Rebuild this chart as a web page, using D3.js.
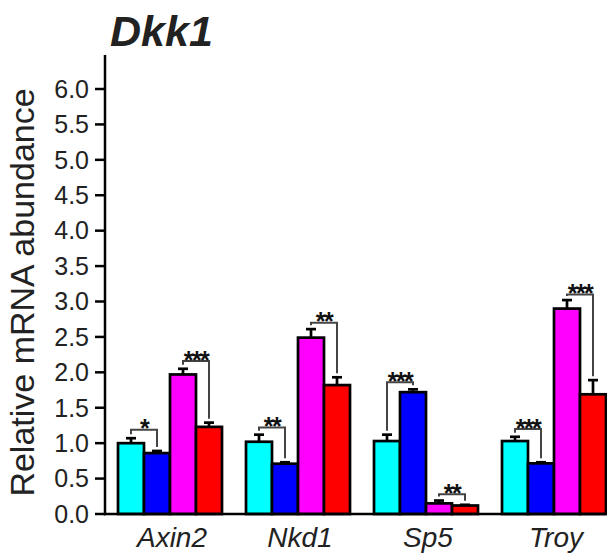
<!DOCTYPE html>
<html>
<head>
<meta charset="utf-8">
<script src="https://cdn.jsdelivr.net/npm/d3@7"></script>
<style>
  html, body { margin: 0; padding: 0; background: #fff; }
  svg { display: block; font-family: "Liberation Sans", Arial, sans-serif; }
</style>
</head>
<body>
<svg id="chart" width="607" height="557"></svg>
<script>
// Genes on the x axis
const genes = ["Axin2", "Nkd1", "Sp5", "Troy"];
// Four conditions per gene, drawn left to right
const conditions = ["c1", "c2", "c3", "c4"];
const conditionColors = ["#00ffff", "#0000ff", "#ff00ff", "#ff0000"];

// Mean relative abundance per condition (one value per gene)
const meanC1 = [1.00, 1.02, 1.03, 1.03];
const meanC2 = [0.86, 0.71, 1.72, 0.715];
const meanC3 = [1.97, 2.49, 0.15, 2.90];
const meanC4 = [1.23, 1.82, 0.12, 1.69];

// Standard error per condition
const semC1 = [0.07, 0.10, 0.09, 0.06];
const semC2 = [0.03, 0.02, 0.04, 0.015];
const semC3 = [0.08, 0.12, 0.04, 0.12];
const semC4 = [0.06, 0.11, 0.01, 0.20];

// Y axis ticks
const yTicks = [0, 0.5, 1, 1.5, 2, 2.5, 3, 3.5, 4, 4.5, 5, 5.5, 6];

// Significance brackets: gene, pair of condition indices, bracket level, label
const sigGene  = ["Axin2", "Axin2", "Nkd1", "Nkd1", "Sp5", "Sp5", "Troy", "Troy"];
const sigFrom  = [0, 2, 0, 2, 0, 2, 0, 2];
const sigTo    = [1, 3, 1, 3, 1, 3, 1, 3];
const sigLevel = [1.19, 2.16, 1.22, 2.70, 1.86, 0.28, 1.20, 3.10];
const sigLabel = ["*", "***", "**", "**", "***", "**", "***", "***"];

const means = [meanC1, meanC2, meanC3, meanC4];
const sems = [semC1, semC2, semC3, semC4];

const rows = [];
genes.forEach((g, gi) => {
  conditions.forEach((c, ci) => {
    rows.push({ gene: g, cond: c, ci, mean: means[ci][gi], sem: sems[ci][gi] });
  });
});

const svg = d3.select("#chart");
const axisX = 105, axisTop = 55, axisBottom = 514, axisRight = 606;

const y = d3.scaleLinear().domain([0, 6]).range([axisBottom, 89]);
const x = d3.scaleBand().domain(genes).range([106, 618])
  .paddingInner(0.1875).paddingOuter(0.09375);
const xs = d3.scaleBand().domain(conditions).range([0, x.bandwidth()]);

const textColor = "#222";

// Bars
svg.append("g").selectAll("rect").data(rows).join("rect")
  .attr("x", d => x(d.gene) + xs(d.cond))
  .attr("y", d => y(d.mean))
  .attr("width", xs.bandwidth())
  .attr("height", d => y(0) - y(d.mean))
  .attr("fill", d => conditionColors[d.ci])
  .attr("stroke", "#000")
  .attr("stroke-width", 2.7);

// Upper error bars
const capW = 10;
const eb = svg.append("g").attr("stroke", "#000").attr("stroke-width", 2.7);
rows.forEach(d => {
  const cx = x(d.gene) + xs(d.cond) + xs.bandwidth() / 2;
  eb.append("line").attr("x1", cx).attr("x2", cx)
    .attr("y1", y(d.mean)).attr("y2", y(d.mean + d.sem));
  eb.append("line").attr("x1", cx - capW / 2).attr("x2", cx + capW / 2)
    .attr("y1", y(d.mean + d.sem)).attr("y2", y(d.mean + d.sem));
});

// Significance brackets
const br = svg.append("g");
sigGene.forEach((g, i) => {
  const gi = genes.indexOf(g);
  const a = sigFrom[i], b = sigTo[i];
  const xa = x(g) + xs(conditions[a]) + xs.bandwidth() / 2;
  const xb = x(g) + xs(conditions[b]) + xs.bandwidth() / 2;
  const yl = y(sigLevel[i]);
  const ya = y(means[a][gi] + sems[a][gi]) - 4;
  const yb = y(means[b][gi] + sems[b][gi]) - 4;
  br.append("path")
    .attr("d", `M${xa},${ya}V${yl}H${xb}V${yb}`)
    .attr("fill", "none")
    .attr("stroke", "#444")
    .attr("stroke-width", 2);
  br.append("text")
    .attr("x", (xa + xb) / 2)
    .attr("y", yl + 7.5)
    .attr("text-anchor", "middle")
    .attr("font-size", 25)
    .attr("font-weight", "bold")
    .attr("letter-spacing", -1.5)
    .attr("fill", "#111")
    .text(sigLabel[i]);
});

// Y axis
const yAxis = svg.append("g").attr("transform", `translate(${axisX},0)`);
yAxis.append("line").attr("x1", 0).attr("x2", 0)
  .attr("y1", axisTop).attr("y2", axisBottom + 1.2)
  .attr("stroke", "#000").attr("stroke-width", 2.5);
yAxis.selectAll("line.tick").data(yTicks).join("line").attr("class", "tick")
  .attr("x1", -10).attr("x2", 0)
  .attr("y1", d => y(d)).attr("y2", d => y(d))
  .attr("stroke", "#000").attr("stroke-width", 2.5);
yAxis.selectAll("text").data(yTicks).join("text")
  .attr("x", -16).attr("y", d => y(d))
  .attr("dy", "0.35em")
  .attr("text-anchor", "end")
  .attr("font-size", 25)
  .attr("fill", textColor)
  .text(d3.format(".1f"));

// X axis
svg.append("line")
  .attr("x1", axisX - 1.2).attr("x2", axisRight)
  .attr("y1", axisBottom).attr("y2", axisBottom)
  .attr("stroke", "#000").attr("stroke-width", 2.5);
svg.append("g").selectAll("text").data(genes).join("text")
  .attr("x", d => x(d) + x.bandwidth() / 2 + 2)
  .attr("y", 547)
  .attr("text-anchor", "middle")
  .attr("font-size", 28)
  .attr("font-style", "italic")
  .attr("fill", textColor)
  .text(d => d);

// Y axis title
svg.append("text")
  .attr("transform", `translate(34,${(80 + 505) / 2}) rotate(-90)`)
  .attr("text-anchor", "middle")
  .attr("font-size", 34)
  .attr("fill", textColor)
  .text("Relative mRNA abundance");

// Chart title
svg.append("text")
  .attr("x", 110).attr("y", 46)
  .attr("font-size", 43)
  .attr("font-weight", "bold")
  .attr("font-style", "italic")
  .attr("fill", textColor)
  .text("Dkk1");
</script>
</body>
</html>
